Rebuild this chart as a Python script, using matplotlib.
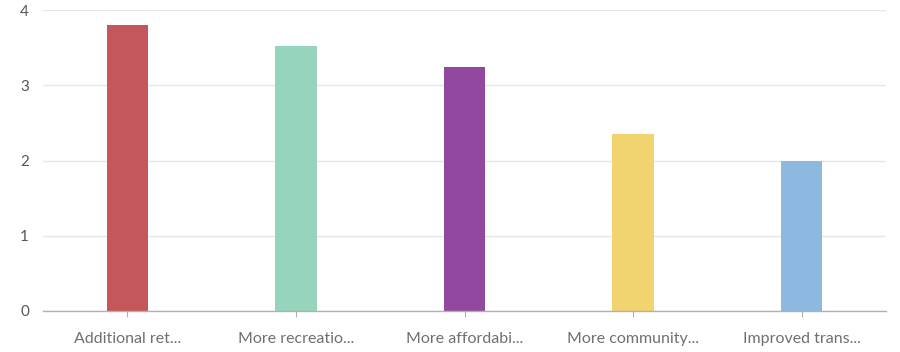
import matplotlib
matplotlib.use("Agg")
import matplotlib.pyplot as plt

categories = ["Additional ret...", "More recreatio...", "More affordabi...",
              "More community...", "Improved trans..."]
values = [3.80, 3.52, 3.24, 2.35, 1.99]
colors = ["#c4575a", "#96d4bc", "#93489f", "#f1d46f", "#8db9e1"]
y_ticks = [0, 1, 2, 3, 4]

plt.rcParams["font.family"] = ["Lato", "DejaVu Sans"]

fig = plt.figure(figsize=(9, 3.52), dpi=100)
ax = fig.add_axes([43 / 900, 41 / 352, 843 / 900, 301 / 352])

x = list(range(len(categories)))
ax.bar(x, values, width=0.245, color=colors, zorder=3)

ax.set_xlim(-0.5, len(categories) - 0.5)
ax.set_ylim(0, 4)
ax.set_yticks(y_ticks)
ax.set_xticks(x)
ax.set_xticklabels(categories)

ax.grid(axis="y", color="#e6e6e6", linewidth=1, zorder=0)
for side in ("top", "right", "left"):
    ax.spines[side].set_visible(False)
ax.spines["bottom"].set_color("#b0b0b0")
ax.spines["bottom"].set_linewidth(1)
ax.spines["bottom"].set_zorder(4)

ax.tick_params(axis="y", length=0, pad=10, labelsize=11, labelcolor="#555555")
ax.tick_params(axis="x", length=4, color="#b0b0b0", pad=11, labelsize=11.5,
               labelcolor="#707070")

fig.savefig("out.png", dpi=100)
